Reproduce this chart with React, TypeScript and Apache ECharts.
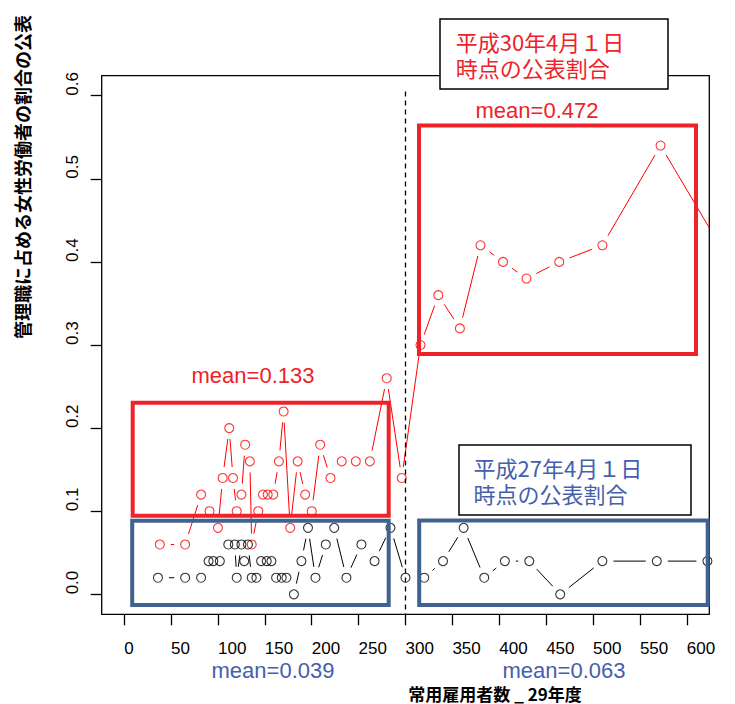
import React, { useEffect, useRef } from 'react';
import * as echarts from 'echarts';

// 平成30年4月1日時点 (red) : x = 常用雇用者数, y = 管理職に占める女性労働者の割合
const h30X = [38, 65, 82, 91, 100, 105, 112, 116, 120, 125, 129, 134, 136, 143, 148, 153, 159, 165, 170, 177, 185, 193, 200, 209, 220, 232, 247, 262, 280, 296, 316, 335, 358, 380, 404, 429, 464, 510, 572, 635];
const h30Y = [0.06, 0.06, 0.12, 0.10, 0.08, 0.14, 0.20, 0.14, 0.10, 0.12, 0.18, 0.16, 0.06, 0.10, 0.12, 0.12, 0.12, 0.16, 0.22, 0.08, 0.16, 0.12, 0.10, 0.18, 0.14, 0.16, 0.16, 0.16, 0.26, 0.14, 0.30, 0.36, 0.32, 0.42, 0.40, 0.38, 0.40, 0.42, 0.54, 0.42];

// 平成27年4月1日時点 (black)
const h27X = [36, 65, 82, 90, 95, 102, 111, 118, 120, 125, 128, 132, 136, 141, 146, 152, 157, 162, 168, 173, 181, 189, 196, 204, 215, 224, 237, 253, 267, 284, 300, 320, 340, 362, 384, 406, 432, 465, 510, 568, 622];
const h27Y = [0.02, 0.02, 0.02, 0.04, 0.04, 0.04, 0.06, 0.06, 0.02, 0.06, 0.04, 0.06, 0.02, 0.02, 0.04, 0.04, 0.04, 0.02, 0.02, 0.02, 0.00, 0.04, 0.08, 0.02, 0.06, 0.08, 0.02, 0.06, 0.04, 0.08, 0.02, 0.02, 0.04, 0.08, 0.02, 0.04, 0.04, 0.00, 0.04, 0.04, 0.04];

const xTickValues = [0, 50, 100, 150, 200, 250, 300, 350, 400, 450, 500, 550, 600];
const yTickValues = [0, 0.1, 0.2, 0.3, 0.4, 0.5, 0.6];
const dividerX = 300;

const meanLabels = ['mean=0.133', 'mean=0.472', 'mean=0.039', 'mean=0.063'];
const legendH30 = ['平成30年4月１日', '時点の公表割合'];
const legendH27 = ['平成27年4月１日', '時点の公表割合'];
const yTitle = '管理職に占める女性労働者の割合の公表';
const xTitle = '常用雇用者数 _ 29年度';

const RED = '#FF0000';
const BOX_RED = '#EE2229';
const TEXT_RED = '#EE2229';
const BOX_BLUE = '#41628F';
const TEXT_BLUE = '#4460AC';
const LATIN = '"Liberation Sans", Arial, Helvetica, sans-serif';
const JP = '"Noto Sans CJK JP", "Noto Sans", sans-serif';
const GAP = 11;

function segments(xs: number[], ys: number[]) {
  const out: number[][] = [];
  for (let i = 0; i < xs.length - 1; i++) out.push([xs[i], ys[i], xs[i + 1], ys[i + 1]]);
  return out;
}

function makeRender(color: string) {
  return (params: any, api: any) => {
    const p1 = api.coord([api.value(0), api.value(1)]);
    const p2 = api.coord([api.value(2), api.value(3)]);
    const dx = p2[0] - p1[0];
    const dy = p2[1] - p1[1];
    const len = Math.hypot(dx, dy);
    if (len <= 2 * GAP + 0.5) return { type: 'group', children: [] };
    const ux = dx / len;
    const uy = dy / len;
    let a = [p1[0] + ux * GAP, p1[1] + uy * GAP];
    let b = [p2[0] - ux * GAP, p2[1] - uy * GAP];
    const cs = params.coordSys;
    const xmin = cs.x;
    const xmax = cs.x + cs.width;
    if (a[0] > xmax) return { type: 'group', children: [] };
    if (b[0] > xmax) {
      const t = (xmax - a[0]) / (b[0] - a[0]);
      b = [xmax, a[1] + t * (b[1] - a[1])];
    }
    if (a[0] < xmin) {
      const t = (xmin - a[0]) / (b[0] - a[0]);
      a = [xmin, a[1] + t * (b[1] - a[1])];
    }
    return {
      type: 'line',
      shape: { x1: a[0], y1: a[1], x2: b[0], y2: b[1] },
      style: { stroke: color, lineWidth: 1, fill: null },
    };
  };
}

function boxRect(x: number, y: number, w: number, h: number, color: string, lw: number, fill: string) {
  return {
    type: 'rect',
    z: 100,
    shape: { x, y, width: w, height: h },
    style: { stroke: color, lineWidth: lw, fill },
    silent: true,
  };
}

function label(text: string, x: number, y: number, color: string, size: number, family: string, align = 'center', weight = 'normal', lineHeight?: number) {
  return {
    type: 'text',
    z: 101,
    x,
    y,
    style: {
      text,
      fill: color,
      fontSize: size,
      fontFamily: family,
      fontWeight: weight,
      lineHeight: lineHeight ?? size,
      align,
      verticalAlign: 'middle',
    },
    silent: true,
  };
}

export default function App() {
  const ref = useRef<HTMLDivElement>(null);

  useEffect(() => {
    if (!ref.current) return;
    const chart = echarts.init(ref.current, undefined, { renderer: 'svg' });

    const option: any = {
      animation: false,
      backgroundColor: '#ffffff',
      grid: {
        left: 101.7,
        right: 25.7,
        top: 75.7,
        bottom: 89.7,
        show: true,
        borderColor: '#000',
        borderWidth: 1.3,
        backgroundColor: 'transparent',
      },
      xAxis: {
        type: 'value',
        min: -24,
        max: 624,
        axisLine: { show: false, onZero: false },
        splitLine: { show: false },
        axisTick: {
          show: true,
          inside: false,
          length: 11,
          customValues: xTickValues,
          lineStyle: { color: '#000', width: 1.3 },
        },
        axisLabel: {
          customValues: xTickValues,
          align: 'left',
          margin: 26,
          fontSize: 17,
          color: '#000',
          fontFamily: LATIN,
        },
      },
      yAxis: {
        type: 'value',
        min: -0.024,
        max: 0.624,
        axisLine: { show: false, onZero: false },
        splitLine: { show: false },
        axisTick: {
          show: true,
          inside: false,
          length: 11,
          customValues: yTickValues,
          lineStyle: { color: '#000', width: 1.3 },
        },
        axisLabel: {
          customValues: yTickValues,
          rotate: 90,
          align: 'left',
          verticalAlign: 'bottom',
          margin: 21,
          fontSize: 17,
          color: '#000',
          fontFamily: LATIN,
          formatter: (v: number) => v.toFixed(1),
        },
      },
      series: [
        {
          type: 'custom',
          name: 'H30 lines',
          silent: true,
          renderItem: makeRender(RED),
          data: segments(h30X, h30Y),
          encode: { x: [0, 2], y: [1, 3] },
          z: 2,
        },
        {
          type: 'scatter',
          name: 'H30',
          data: h30X.map((x, i) => [x, h30Y[i]]),
          symbol: 'circle',
          symbolSize: 9,
          itemStyle: { color: 'rgba(0,0,0,0)', borderColor: RED, borderWidth: 1.1 },
          z: 3,
        },
        {
          type: 'custom',
          name: 'H27 lines',
          silent: true,
          renderItem: makeRender('#000'),
          data: segments(h27X, h27Y),
          encode: { x: [0, 2], y: [1, 3] },
          z: 2,
          markLine: {
            silent: true,
            symbol: ['none', 'none'],
            label: { show: false },
            lineStyle: { color: '#000', width: 1.3, type: [5, 4] },
            data: [[{ coord: [dividerX, 0.605] }, { coord: [dividerX, -0.024] }]],
          },
        },
        {
          type: 'scatter',
          name: 'H27',
          data: h27X.map((x, i) => [x, h27Y[i]]),
          symbol: 'circle',
          symbolSize: 9,
          itemStyle: { color: 'rgba(0,0,0,0)', borderColor: '#000', borderWidth: 1.1 },
          z: 3,
        },
      ],
      graphic: [
        boxRect(132.7, 402.7, 256, 113, BOX_RED, 4, 'none'),
        boxRect(132.2, 520.7, 256.5, 84.3, BOX_BLUE, 4, 'none'),
        boxRect(419, 125.5, 277, 228.5, BOX_RED, 4, 'none'),
        boxRect(419.2, 520.5, 288.5, 84.5, BOX_BLUE, 4, 'none'),
        boxRect(440, 19, 228, 70, '#000', 1.5, '#fff'),
        boxRect(459, 445, 232, 70, '#000', 1.5, '#fff'),
        label(legendH30.join('\n'), 455.7, 53.7, TEXT_RED, 22, JP, 'left', 'normal', 26),
        label(legendH27.join('\n'), 473.6, 479.5, TEXT_BLUE, 22, JP, 'left', 'normal', 26),
        label(meanLabels[0], 253, 375, TEXT_RED, 22, LATIN),
        label(meanLabels[1], 537, 110, TEXT_RED, 22, LATIN),
        label(meanLabels[2], 273, 670, TEXT_BLUE, 22, LATIN),
        label(meanLabels[3], 564, 670, TEXT_BLUE, 22, LATIN),
        label(xTitle, 495, 693, '#000', 17, JP, 'center', 'bold', 17),
        {
          type: 'text',
          z: 101,
          x: 22,
          y: 177,
          rotation: Math.PI / 2,
          style: {
            text: yTitle,
            fill: '#000',
            fontSize: 18,
            lineHeight: 20,
            fontFamily: JP,
            fontWeight: 'bold',
            align: 'center',
            verticalAlign: 'middle',
          },
          silent: true,
        },
      ],
    };

    chart.setOption(option);
    return () => chart.dispose();
  }, []);

  return (
    <div
      ref={ref}
      style={{ position: 'fixed', left: 0, top: 0, width: 735, height: 704, background: '#fff' }}
    />
  );
}
